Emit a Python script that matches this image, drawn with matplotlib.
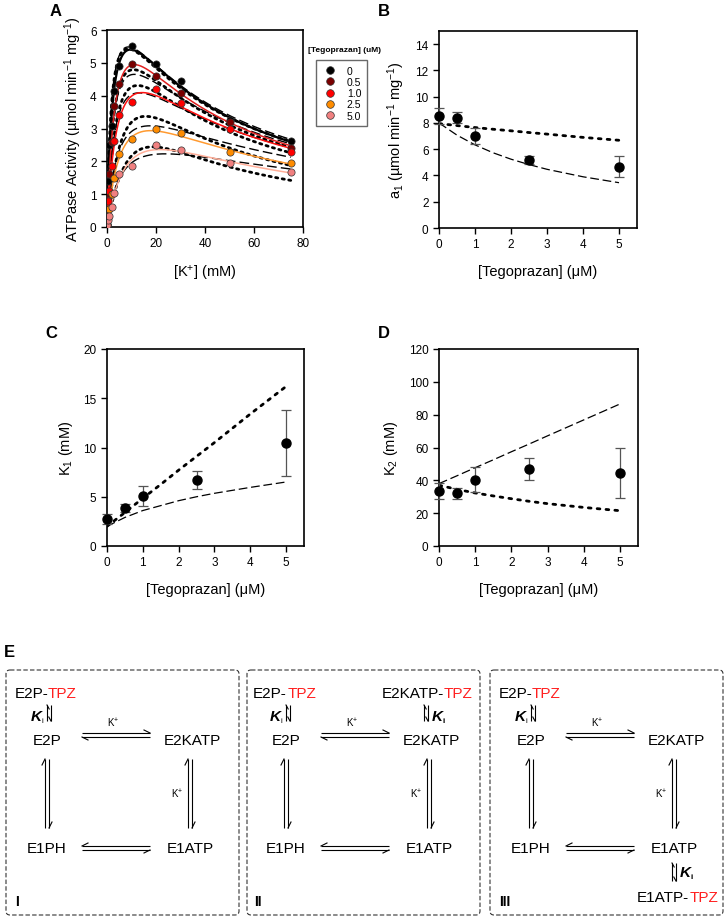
import matplotlib
matplotlib.use("Agg")
import matplotlib.pyplot as plt
import numpy as np
from matplotlib.lines import Line2D
from matplotlib.patches import FancyBboxPatch

plt.rcParams['font.family'] = ['Liberation Sans', 'DejaVu Sans']
plt.rcParams['mathtext.fontset'] = 'custom'
plt.rcParams['mathtext.rm'] = 'Liberation Sans'
plt.rcParams['mathtext.it'] = 'Liberation Sans:italic'
plt.rcParams['mathtext.bf'] = 'Liberation Sans:bold'

# ---- panel A data: ATPase activity vs [K+] ----
k_conc = [0, 0.5, 1, 2, 3, 5, 10, 20, 30, 50, 75]
act_0 = [0.05, 1.4, 2.5, 3.07, 4.13, 4.89, 5.52, 4.95, 4.45, 3.25, 2.63]
act_05 = [0.1, 1.05, 1.6, 2.6, 3.68, 4.36, 4.95, 4.6, 4.08, 3.2, 2.42]
act_10 = [0.05, 0.8, 1.1, 1.85, 2.62, 3.42, 3.82, 4.2, 3.77, 2.98, 2.27]
act_25 = [0.05, 0.3, 0.55, 1.0, 1.5, 2.23, 2.68, 2.97, 2.85, 2.29, 1.94]
act_50 = [0.05, 0.2, 0.35, 0.6, 1.05, 1.6, 1.85, 2.5, 2.35, 1.95, 1.68]
tpz_labels = ['0', '0.5', '1.0', '2.5', '5.0']
marker_colors = ['#000000', '#7a0000', '#ff0000', '#ff8c00', '#f08080']
line_colors = ['#000000', '#e02020', '#ff1010', '#ff9a30', '#ffae98']

# ---- panels B-D: fitted parameters vs [Tegoprazan] ----
tpz = [0, 0.5, 1, 2.5, 5]
a1 = [8.5, 8.4, 7.0, 5.15, 4.65]
a1_err = [0.6, 0.4, 0.6, 0.3, 0.8]
k1 = [2.75, 3.9, 5.1, 6.7, 10.5]
k1_err = [0.5, 0.4, 1.0, 0.9, 3.35]
k2 = [33.5, 32.0, 40.5, 47.0, 44.5]
k2_err = [5.0, 3.5, 7.5, 6.5, 15.0]

tpz_fit = [0, 0.5, 1, 1.5, 2, 2.5, 3, 4, 5]
a1_dot = [7.95, 7.8, 7.65, 7.52, 7.4, 7.27, 7.15, 6.9, 6.68]
a1_dash = [8.0, 7.07, 6.33, 5.73, 5.24, 4.83, 4.47, 3.9, 3.45]
k1_dot = [2.0, 3.4, 4.85, 6.25, 7.7, 9.1, 10.5, 13.4, 16.2]
k1_dash = [2.0, 2.9, 3.6, 4.1, 4.6, 5.0, 5.35, 5.95, 6.5]
k2_dot = [37.0, 34.5, 32.3, 30.5, 28.8, 27.2, 25.8, 23.5, 21.5]
k2_dash = [38.0, 42.8, 47.7, 52.5, 57.4, 62.2, 67.1, 76.8, 86.5]


def rate(k, a, K1, K2):
    # substrate-inhibition fit used in panel A, with the parameters above
    return a * k / (K1 + k + k ** 2 / K2)


fig = plt.figure(figsize=(7.28, 9.2), dpi=100)

TICK = 8.5
LAB = 10.5


def style(ax):
    for s in ax.spines.values():
        s.set_linewidth(1.2)
    ax.tick_params(labelsize=TICK, length=4, width=1, direction='out')


# ---------------- A ----------------
axA = fig.add_axes([107 / 728, 1 - 228 / 920, 196 / 728, 197 / 920])
kk = np.linspace(0, 75, 400)
acts = [act_0, act_05, act_10, act_25, act_50]
for i, c in enumerate(tpz):
    j = tpz_fit.index(c)
    axA.plot(kk, rate(kk, a1_dot[j], k1_dot[j], k2_dot[j]), color='k', lw=2.0,
             linestyle=(0, (0.8, 1.6)), dash_capstyle='round', zorder=2)
    axA.plot(kk, rate(kk, a1_dash[j], k1_dash[j], k2_dash[j]), color='k', lw=1.0,
             linestyle=(0, (7, 3)), zorder=2)
    axA.plot(kk, rate(kk, a1[i], k1[i], k2[i]), color=line_colors[i],
             lw=1.6 if i == 0 else 1.1, zorder=3)
for i, y in enumerate(acts):
    axA.plot(k_conc, y, 'o', ms=5.2, mfc=marker_colors[i], mec='#333333', mew=0.5,
             linestyle='none', zorder=5)
axA.set_xlim(0, 80)
axA.set_ylim(0, 6)
axA.set_xticks([0, 20, 40, 60, 80])
axA.set_yticks(range(7))
axA.set_xlabel('[K$^{+}$] (mM)', fontsize=LAB, labelpad=10)
axA.set_ylabel('ATPase Activity (µmol min$^{-1}$ mg$^{-1}$)', fontsize=LAB, labelpad=4)
style(axA)

handles = [Line2D([], [], marker='o', ls='none', ms=5.5, mfc=c, mec='#333333', mew=0.5)
           for c in marker_colors]
fig.legend(handles, tpz_labels, loc='upper left', bbox_to_anchor=(316 / 728, 1 - 61 / 920),
           fontsize=7.5, frameon=True, fancybox=False, edgecolor='#444444',
           handletextpad=0.8, labelspacing=0.12, borderpad=0.55, handlelength=1.6,
           borderaxespad=0)
fig.text(308 / 728, 1 - 50 / 920, '[Tegoprazan] (uM)', fontsize=6, fontweight='bold',
         va='center', ha='left')

# ---------------- B, C, D ----------------
panels = [
    ([439, 229, 198, 197], a1, a1_err, a1_dot, a1_dash, (0, 15), range(0, 15, 2),
     'a$_1$ (µmol min$^{-1}$ mg$^{-1}$)'),
    ([107, 547, 197, 197], k1, k1_err, k1_dot, k1_dash, (0, 20), range(0, 21, 5),
     'K$_1$ (mM)'),
    ([439, 547, 199, 197], k2, k2_err, k2_dot, k2_dash, (0, 120), range(0, 121, 20),
     'K$_2$ (mM)'),
]
for box, y, err, ydot, ydash, ylim, yt, ylab in panels:
    ax = fig.add_axes([box[0] / 728, 1 - box[1] / 920, box[2] / 728, box[3] / 920])
    ax.plot(tpz_fit, ydot, color='k', lw=2.0, linestyle=(0, (1, 2.2)),
            dash_capstyle='round', zorder=2)
    ax.plot(tpz_fit, ydash, color='k', lw=0.9, linestyle=(0, (7, 3)), zorder=2)
    ax.errorbar(tpz, y, yerr=err, fmt='o', ms=6.5, mfc='k', mec='k', ecolor='#555555',
                elinewidth=0.9, capsize=3.5, capthick=0.9, zorder=4, clip_on=False)
    ax.set_xlim(0, 5.5)
    ax.set_ylim(*ylim)
    ax.set_xticks(range(6))
    ax.set_yticks(list(yt))
    ax.set_xlabel('[Tegoprazan] (μM)', fontsize=LAB, labelpad=10)
    ax.set_ylabel(ylab, fontsize=LAB, labelpad=6)
    style(ax)

# ---------------- E: schemes ----------------
axE = fig.add_axes([0, 0, 1, 1], zorder=-1)
axE.set_xlim(0, 728)
axE.set_ylim(920, 0)
axE.axis('off')

for lab, x, y in [('A', 50, 12), ('B', 378, 12), ('C', 45, 334), ('D', 378, 334), ('E', 4, 653)]:
    axE.text(x, y, lab, fontsize=12, fontweight='bold', va='center', ha='left')

FS = 11


def harpoon(x0, y0, x1, y1, ox, oy, size=6):
    L = np.hypot(x1 - x0, y1 - y0)
    ux, uy = (x1 - x0) / L, (y1 - y0) / L
    axE.plot([x0, x1], [y0, y1], color='k', lw=0.8, solid_capstyle='butt')
    axE.plot([x1, x1 - ux * size + ox], [y1, y1 - uy * size + oy], color='k', lw=0.8)


def ki_label(x, y, sub):
    axE.text(x, y, 'K', fontsize=11, fontweight='bold', style='italic', va='center', ha='left')
    axE.text(x + 10.5, y + 5, sub, fontsize=5.5, va='center', ha='left')


def eq_small(x, y0, y1):
    # little vertical equilibrium pair next to a K_i label
    harpoon(x, y1, x, y0, 2.2, 0, 4)
    harpoon(x + 4, y0, x + 4, y1, -2.2, 0, 4)


def tpz_text(x_right, y, base):
    axE.text(x_right - 29, y, base, fontsize=FS, va='center', ha='right')
    axE.text(x_right, y, 'TPZ', fontsize=FS, va='center', ha='right', color='#ff2020')


def scheme(dx, roman):
    tx = dict(fontsize=FS, va='center', ha='center')
    tpz_text(dx + 75, 694, 'E2P-')
    ki_label(dx + 29, 717, 'i')
    eq_small(dx + 45, 706, 722)
    axE.text(dx + 45, 741, 'E2P', **tx)
    axE.text(dx + 190, 741, 'E2KATP', **tx)
    axE.text(dx + 45, 849, 'E1PH', **tx)
    axE.text(dx + 188, 849, 'E1ATP', **tx)
    axE.text(dx + 111, 723, 'K$^{+}$', fontsize=7, va='center', ha='center')
    axE.text(dx + 175, 794, 'K$^{+}$', fontsize=7, va='center', ha='center')
    # top row
    harpoon(dx + 80, 734, dx + 148, 734, 0, -3)
    harpoon(dx + 148, 738, dx + 80, 738, 0, 3)
    # bottom row
    harpoon(dx + 148, 847, dx + 80, 847, 0, -3)
    harpoon(dx + 80, 851, dx + 148, 851, 0, 3)
    # left column
    harpoon(dx + 43, 829, dx + 43, 760, -3, 0)
    harpoon(dx + 47, 760, dx + 47, 829, 3, 0)
    # right column
    harpoon(dx + 186, 829, dx + 186, 760, -3, 0)
    harpoon(dx + 190, 760, dx + 190, 829, 3, 0)
    axE.text(dx + 13, 902, roman, fontsize=10, fontweight='bold', va='center', ha='left')


for left, dx, roman in [(3, 2, 'I'), (244, 241, 'II'), (487, 486, 'III')]:
    axE.add_patch(FancyBboxPatch((left + 3, 671), 233, 245, boxstyle='round,pad=0,rounding_size=4',
                                 fill=False, lw=0.8, ls=(0, (4, 2)), ec='#333333'))
    scheme(dx, roman)

# box II extra: E2KATP-TPZ
tpz_text(473, 694, 'E2KATP-')
eq_small(424, 706, 722)
ki_label(432, 717, 'ii')

# box III extra: E1ATP-TPZ
eq_small(672, 864, 882)
ki_label(680, 873, 'ii')
tpz_text(718, 898, 'E1ATP-')

fig.savefig('out.png', dpi=100)
